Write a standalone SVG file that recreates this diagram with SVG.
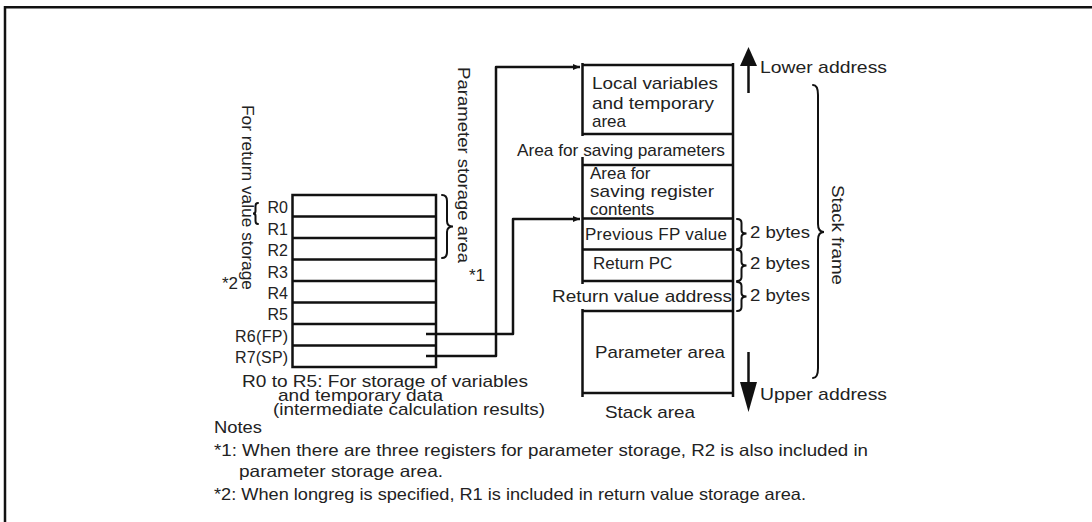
<svg xmlns="http://www.w3.org/2000/svg" width="1092" height="522" viewBox="0 0 1092 522">
<style>
text{font-family:"Liberation Sans",Arial,sans-serif;fill:#222;font-size:17px}
.reg{font-size:16px;text-anchor:end}
.note{font-size:16.5px}
.ln{stroke:#111;stroke-width:2.5;fill:none}
.br{stroke:#111;stroke-width:2;fill:none;stroke-linecap:round}
.cn{stroke:#111;stroke-width:2.5;fill:none;stroke-linejoin:round}
</style>
<defs>
<marker id="ah" markerUnits="userSpaceOnUse" markerWidth="8" markerHeight="6" refX="7" refY="3" orient="auto">
<path d="M0,0 L7,3 L0,6 Z" fill="#111"/>
</marker>
</defs>
<rect width="1092" height="522" fill="#fff"/>
<!-- frame -->
<path d="M5,522 V7.2 H1092" class="ln" stroke-width="2.4"/>

<!-- register file -->
<g id="registers">
<rect x="292.5" y="195" width="143.5" height="172" class="ln"/>
<path d="M292.5,216.5H436M292.5,238H436M292.5,259.5H436M292.5,281H436M292.5,302.5H436M292.5,324H436M292.5,345.5H436" class="ln"/>
<text class="reg" x="288" y="213">R0</text>
<text class="reg" x="288" y="234.5">R1</text>
<text class="reg" x="288" y="256">R2</text>
<text class="reg" x="288" y="277.5">R3</text>
<text class="reg" x="288" y="298.5">R4</text>
<text class="reg" x="288" y="320">R5</text>
<text class="reg" x="288" y="341.5" textLength="53" lengthAdjust="spacing">R6(FP)</text>
<text class="reg" x="288" y="363" textLength="53" lengthAdjust="spacing">R7(SP)</text>
</g>

<g id="return-value-brace">
<path class="br" d="M258,203 Q255.5,203 255.5,206 L255.5,211 Q255.5,213.5 253,213.5 Q255.5,213.5 255.5,216 L255.5,221 Q255.5,224 258,224"/>
<text transform="translate(242,105) rotate(90)" textLength="185" lengthAdjust="spacingAndGlyphs" font-size="16">For return value storage</text>
<text x="222" y="289" font-size="16">*2</text>
</g>

<g id="parameter-storage-brace">
<path class="br" d="M442,195 Q447,195 447,201 L447,221 Q447,226.5 453,226.5 Q447,226.5 447,232 L447,252 Q447,258 442,258"/>
<text transform="translate(458,67) rotate(90)" textLength="196" lengthAdjust="spacingAndGlyphs" font-size="17">Parameter storage area</text>
<text x="469" y="281" font-size="16">*1</text>
</g>

<g id="notes-registers">
<text x="242" y="387" font-size="15.5" textLength="286" lengthAdjust="spacingAndGlyphs">R0 to R5:  For storage of variables</text>
<text x="278" y="401" font-size="15" textLength="165" lengthAdjust="spacingAndGlyphs">and temporary data</text>
<text x="273" y="415" font-size="15.5" textLength="272" lengthAdjust="spacingAndGlyphs">(intermediate calculation results)</text>
</g>

<!-- stack area -->
<g id="stack">
<path class="ln" d="M582.5,63 V136 M582.5,157 V284 M582.5,309 V397 M733,63 V397"/>
<path class="ln" d="M582.5,65H733M582.5,134H733M582.5,165H733M582.5,218.5H733M582.5,249.5H733M582.5,281H733M582.5,311H733M582.5,393H733"/>
<text x="592" y="89" textLength="126" lengthAdjust="spacingAndGlyphs">Local variables</text>
<text x="592" y="109" textLength="122" lengthAdjust="spacingAndGlyphs">and temporary</text>
<text x="592" y="127">area</text>
<text x="517" y="156" textLength="208" lengthAdjust="spacingAndGlyphs">Area for saving parameters</text>
<text x="590" y="179">Area for</text>
<text x="590" y="197" textLength="124" lengthAdjust="spacingAndGlyphs">saving register</text>
<text x="590" y="215">contents</text>
<text x="585" y="240" font-size="15" textLength="142" lengthAdjust="spacing">Previous FP value</text>
<text x="593" y="269">Return PC</text>
<text x="552" y="302" textLength="180" lengthAdjust="spacingAndGlyphs">Return value address</text>
<text x="595" y="358" textLength="130" lengthAdjust="spacingAndGlyphs">Parameter area</text>
<text x="605" y="418" textLength="90" lengthAdjust="spacingAndGlyphs">Stack area</text>
</g>

<g id="byte-braces">
<path class="br" d="M737,219 Q741.5,219 741.5,223 L741.5,230 Q741.5,233.5 746.5,233.5 Q741.5,233.5 741.5,237 L741.5,245 Q741.5,249 737,249"/>
<path class="br" d="M737,250 Q741.5,250 741.5,254 L741.5,262 Q741.5,265.5 746.5,265.5 Q741.5,265.5 741.5,269 L741.5,277 Q741.5,281 737,281"/>
<path class="br" d="M737,282 Q741.5,282 741.5,286 L741.5,293 Q741.5,296.5 746.5,296.5 Q741.5,296.5 741.5,300 L741.5,307 Q741.5,311 737,311"/>
<text x="750" y="238" textLength="60" lengthAdjust="spacingAndGlyphs">2 bytes</text>
<text x="750" y="269" textLength="60" lengthAdjust="spacingAndGlyphs">2 bytes</text>
<text x="750" y="301" textLength="60" lengthAdjust="spacingAndGlyphs">2 bytes</text>
</g>

<g id="address-arrows">
<path d="M748.5,93 V64" stroke="#111" stroke-width="2.5"/>
<path d="M740,66 L748.5,47 L757,66 Z" fill="#111"/>
<text x="760" y="73" textLength="127" lengthAdjust="spacingAndGlyphs">Lower address</text>
<path d="M748.5,352 V384" stroke="#111" stroke-width="2.5"/>
<path d="M740,382 L748.5,412 L757,382 Z" fill="#111"/>
<text x="760" y="400" textLength="127" lengthAdjust="spacingAndGlyphs">Upper address</text>
</g>

<g id="stack-frame-brace">
<path class="br" stroke-width="2.3" d="M813,85 Q818,85 818,95 L818,224 Q818,232 824,232 Q818,232 818,240 L818,368 Q818,378 813,378"/>
<text transform="translate(832,185) rotate(90)" textLength="100" lengthAdjust="spacingAndGlyphs">Stack frame</text>
</g>

<g id="connectors">
<path class="cn" d="M426,356 H496 V67 H580" marker-end="url(#ah)"/>
<path class="cn" d="M426,334 H513 V219 H580" marker-end="url(#ah)"/>
</g>

<g id="notes">
<text class="note" x="214" y="433" textLength="48" lengthAdjust="spacingAndGlyphs">Notes</text>
<text class="note" x="214" y="456" textLength="654" lengthAdjust="spacingAndGlyphs">*1: When there are three registers for parameter storage, R2 is also included in</text>
<text class="note" x="239" y="477" textLength="204" lengthAdjust="spacingAndGlyphs">parameter storage area.</text>
<text class="note" x="214" y="500" textLength="592" lengthAdjust="spacingAndGlyphs">*2: When longreg is specified, R1 is included in return value storage area.</text>
</g>
</svg>
